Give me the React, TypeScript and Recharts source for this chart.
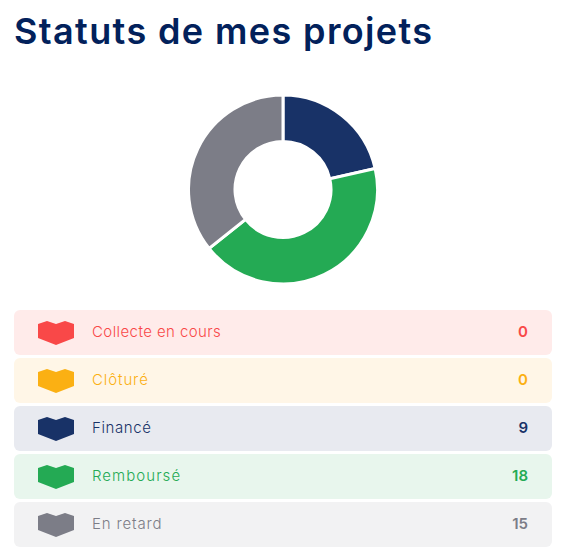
import { PieChart, Pie, Cell } from "recharts";

const TITLE = "Statuts de mes projets";
const STATUSES = ["Collecte en cours", "Clôturé", "Financé", "Remboursé", "En retard"];
const COUNTS = [0, 0, 9, 18, 15];
const COLORS = ["#F94848", "#FBB013", "#183267", "#24AA54", "#7C7D87"];
const ROW_COLORS = ["#FFEBEA", "#FFF6E7", "#E8EAF0", "#E8F6ED", "#F2F2F3"];
const LETTER_SPACING = [0.42, 0.9, 0.6, 1.05, 0.85];

const FONT = "Inter, 'Open Sans', sans-serif";

const data = STATUSES.map((name, i) => ({ name, value: COUNTS[i] }));

const HeartIcon = ({ color }: { color: string }) => (
  <svg width={36} height={24} viewBox="0 0 36 24" style={{ display: "block" }}>
    <polygon points="0,3 9,0 18,3 27,0 36,3 36,17 18,24 0,17" fill={color} />
  </svg>
);

const App = () => {
  return (
    <div
      style={{
        position: "absolute",
        left: 0,
        top: 0,
        width: 571,
        height: 556,
        background: "#fff",
        fontFamily: FONT,
        overflow: "hidden",
      }}
    >
      <div
        style={{
          position: "absolute",
          left: 14,
          top: 10,
          fontSize: 36,
          lineHeight: "42px",
          fontWeight: 600,
          letterSpacing: 1.38,
          color: "#02215B",
          whiteSpace: "nowrap",
        }}
      >
        {TITLE}
      </div>

      <div style={{ position: "absolute", left: 0, top: 0 }}>
        <PieChart width={571} height={300} margin={{ top: 0, right: 0, bottom: 0, left: 0 }}>
          <Pie
            data={data}
            dataKey="value"
            cx={283}
            cy={189.5}
            innerRadius={48}
            outerRadius={94.5}
            startAngle={90}
            endAngle={-270}
            stroke="#fff"
            strokeWidth={3}
            isAnimationActive={false}
          >
            {data.map((d, i) => (
              <Cell key={d.name} fill={COLORS[i]} />
            ))}
          </Pie>
        </PieChart>
      </div>

      {data.map((d, i) => (
        <div
          key={d.name}
          style={{
            position: "absolute",
            left: 14,
            top: 310 + i * 48,
            width: 538,
            height: 45,
            borderRadius: 6,
            background: ROW_COLORS[i],
            color: COLORS[i],
          }}
        >
          <div style={{ position: "absolute", left: 24, top: 11 }}>
            <HeartIcon color={COLORS[i]} />
          </div>
          <div
            style={{
              position: "absolute",
              left: 78,
              top: 0,
              lineHeight: "44px",
              fontSize: 15,
              fontWeight: 300,
              letterSpacing: LETTER_SPACING[i],
              whiteSpace: "nowrap",
            }}
          >
            {d.name}
          </div>
          <div
            style={{
              position: "absolute",
              right: 24,
              top: 0,
              lineHeight: "44px",
              fontSize: 15,
              fontWeight: 600,
            }}
          >
            {d.value}
          </div>
        </div>
      ))}
    </div>
  );
};

export default App;
